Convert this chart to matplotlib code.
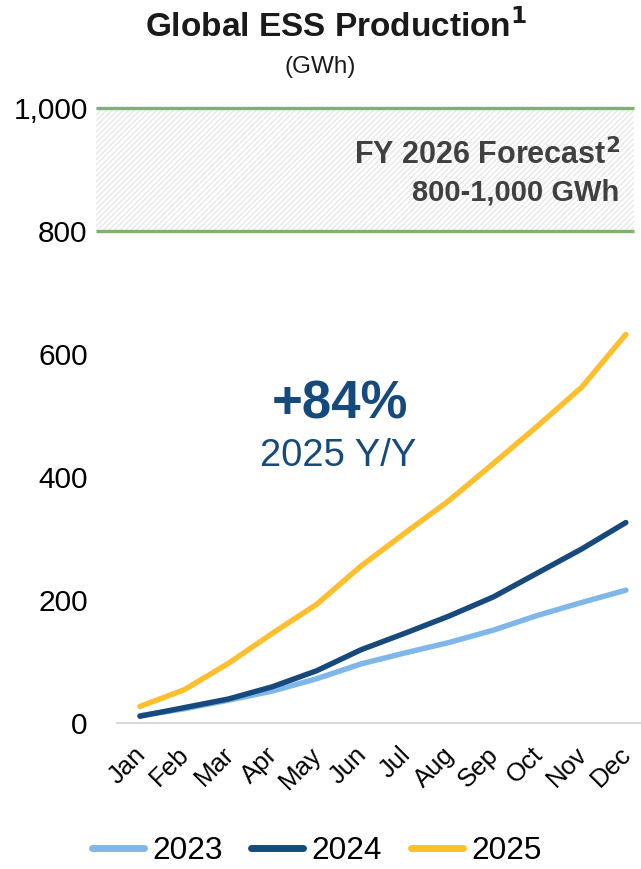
import matplotlib
matplotlib.use("Agg")
import matplotlib.pyplot as plt
import matplotlib.transforms as mtransforms

plt.rcParams['font.family'] = ['Liberation Sans', 'DejaVu Sans']
plt.rcParams['hatch.linewidth'] = 0.8

months = ["Jan", "Feb", "Mar", "Apr", "May", "Jun", "Jul", "Aug", "Sep", "Oct", "Nov", "Dec"]
s2023 = [12, 23, 37, 52, 72, 96, 114, 131, 151, 175, 196, 216]
s2024 = [11, 25, 39, 59, 85, 119, 146, 174, 205, 244, 283, 326]
s2025 = [27, 54, 97, 146, 193, 255, 309, 362, 422, 483, 546, 632]
series = [("2023", s2023, "#7fb7ea"), ("2024", s2024, "#174a7c"), ("2025", s2025, "#fdbf2d")]
yticks = [0, 200, 400, 600, 800, 1000]
ytick_labels = ["0", "200", "400", "600", "800", "1,000"]
forecast_low, forecast_high = 800, 1000

fig = plt.figure(figsize=(6.41, 8.69), dpi=100)
ax = fig.add_axes([0.1498, 0.168, 0.839, 0.7077])
x = list(range(len(months)))

ax.fill_between([-0.995, 11.18], forecast_low, forecast_high, facecolor="white",
                edgecolor="#e4e4e4", hatch="//////", linewidth=0, zorder=0)
for yv in (forecast_low, forecast_high):
    ax.plot([-0.995, 11.18], [yv, yv], color="#7db36a", lw=2.4, zorder=1, clip_on=False,
            solid_capstyle="butt")

ax.plot([-0.52, 11.34], [0, 0], color="#d9d9d9", lw=1.5, clip_on=False, zorder=1)

for name, vals, col in series:
    ax.plot(x, vals, color=col, lw=3.9, label=name, solid_capstyle="round",
            solid_joinstyle="round", zorder=3)

ax.set_xlim(-0.995, 11.18)
ax.set_ylim(0, 1000)
ax.set_yticks(yticks)
ax.set_yticklabels(ytick_labels, fontsize=21.5)
ax.set_xticks(x)
ax.set_xticklabels(months, fontsize=18.5, rotation=45, ha="right", va="top",
                   rotation_mode="anchor")
ax.tick_params(axis="both", length=0)
ax.tick_params(axis="y", pad=6)
ax.tick_params(axis="x", pad=14)
shift = mtransforms.ScaledTranslation(-5 / 72, 0, fig.dpi_scale_trans)
for lab in ax.get_xticklabels():
    lab.set_transform(lab.get_transform() + shift)
for sp in ax.spines.values():
    sp.set_visible(False)

fig.text(0.525, 0.969, "Global ESS Production$^{\\mathbf{1}}$", ha="center", va="center",
         fontsize=24, fontweight="bold", color="#1a1a1a")
fig.text(0.5, 0.923, "(GWh)", ha="center", va="center", fontsize=17.5, color="#1a1a1a")

fig.text(0.968, 0.822, "FY 2026 Forecast$^{\\mathbf{2}}$", ha="right", va="center",
         fontsize=22, fontweight="bold", color="#404040")
fig.text(0.966, 0.779, "800-1,000 GWh", ha="right", va="center",
         fontsize=21, fontweight="bold", color="#404040")

fig.text(0.53, 0.534, "+84%", ha="center", va="center", fontsize=38,
         fontweight="bold", color="#174a7c")
fig.text(0.528, 0.475, "2025 Y/Y", ha="center", va="center", fontsize=27.5,
         color="#174a7c")

leg = fig.legend(loc="center", bbox_to_anchor=(0.494, 0.021), ncol=3, frameon=False,
                 fontsize=22.8, handlelength=1.65, columnspacing=0.9, handletextpad=0.26,
                 borderpad=0.1)
for h in leg.get_lines():
    h.set_linewidth(5)

fig.savefig("out.png", dpi=100)
